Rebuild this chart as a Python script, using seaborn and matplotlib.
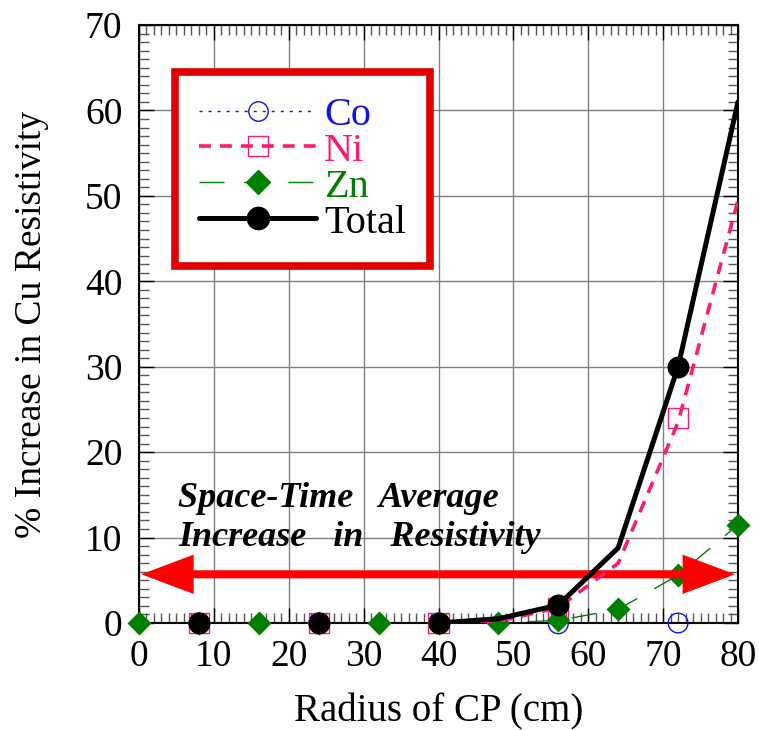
import numpy as np
import pandas as pd
import matplotlib
matplotlib.use("Agg")
import matplotlib.pyplot as plt
from matplotlib.lines import Line2D
from matplotlib.ticker import MultipleLocator
import seaborn as sns

sns.set_theme(style="white")
plt.rcParams['font.family'] = ['Liberation Serif', 'DejaVu Serif']

# ---------------- data ----------------
mark_x = [8, 24, 40, 56, 72]
co_mark = [0, 0, 0, -0.1, 0]
ni_mark = [0, 0, 0, 1.8, 24]
tot_mark = [0, 0, 0, 2.1, 30]

zn_mark_x = [0, 8, 16, 24, 32, 40, 48, 56, 64, 72, 80]
zn_mark = [0, 0, 0, 0, 0, 0, 0, 0.3, 1.6, 5.6, 11.5]

line_x = [40, 48, 56, 64, 72, 80]
co_line = [0, 0, 0, 0, 0, 0]
ni_line = [0, 0.2, 1.8, 7.0, 23.5, 49.5]
zn_line = [0, 0, 0.3, 1.6, 5.6, 11.5]
tot_line = [0, 0.5, 2.1, 8.8, 30, 61]

x_ticks = [0, 10, 20, 30, 40, 50, 60, 70, 80]
y_ticks = [0, 10, 20, 30, 40, 50, 60, 70]

avg_level = 5.7

C_CO = '#1010f0'
C_NI = '#ff1a75'
C_ZN = '#008000'
C_TOT = '#000000'

CO_LS = (0, (2.2, 4.3))
NI_LS = (0, (3.3, 2.5))
ZN_LS = (0, (18, 14))

fig = plt.figure(figsize=(7.59, 7.30), dpi=100)
ax = fig.add_axes([139/759, 1 - 623/730, (738-139)/759, (623-25)/730])

# lines
sns.lineplot(x=line_x, y=zn_line, ax=ax, color=C_ZN, lw=1.0,
             linestyle=ZN_LS, zorder=2)
sns.lineplot(x=line_x, y=co_line, ax=ax, color=C_CO, lw=1.0,
             linestyle=CO_LS, zorder=2)

# markers
sns.scatterplot(x=mark_x, y=co_mark, ax=ax, marker='o', s=200, facecolor='none',
                edgecolor=C_CO, linewidth=1.0, zorder=3, clip_on=False)
sns.scatterplot(x=mark_x, y=ni_mark, ax=ax, marker='s', s=210, facecolor='none',
                edgecolor=C_NI, linewidth=1.0, zorder=3, clip_on=False)
sns.scatterplot(x=zn_mark_x, y=zn_mark, ax=ax, marker='D', s=150, color=C_ZN,
                edgecolor=C_ZN, linewidth=0, zorder=4, clip_on=False)

# arrow (double headed)
for x0, dx in [(40, 39.6), (40, -39.7)]:
    ax.arrow(x0, avg_level, dx, 0, width=0.95, head_width=4.6, head_length=7.0,
             length_includes_head=True, color='#ff0000', lw=0, zorder=5)

sns.lineplot(x=line_x, y=ni_line, ax=ax, color=C_NI, lw=2.6,
             linestyle=NI_LS, zorder=6)
sns.lineplot(x=line_x, y=tot_line, ax=ax, color=C_TOT, lw=3.6, zorder=7)
sns.scatterplot(x=mark_x, y=tot_mark, ax=ax, marker='o', s=250, color=C_TOT,
                edgecolor=C_TOT, linewidth=0, zorder=8, clip_on=False)

# axes
ax.set_xlim(0, 80)
ax.set_ylim(0, 70)
ax.set_xticks(x_ticks)
ax.set_yticks(y_ticks)
ax.xaxis.set_minor_locator(MultipleLocator(1))
ax.yaxis.set_minor_locator(MultipleLocator(1))
ax.grid(True, which='major', color='#808080', lw=1.0)
ax.set_axisbelow(True)
ax.tick_params(which='both', direction='in', top=True, right=True,
               bottom=True, left=True, colors='black', labelsize=27)
ax.tick_params(which='major', length=11, width=1.0, pad=12)
ax.tick_params(which='minor', length=7, width=1.0, color='#555555')
for sp in ax.spines.values():
    sp.set_color('black')
    sp.set_linewidth(1.5)
for lab in ax.get_xticklabels() + ax.get_yticklabels():
    lab.set_color('black')

ax.set_xlabel('Radius of CP (cm)', fontsize=28, color='black', labelpad=14)
ax.set_ylabel('% Increase in Cu Resistivity', fontsize=27, color='black', labelpad=26)

# annotation text
ax.text(5.2, 13.6, 'Space-Time   Average', fontsize=26, fontweight='bold',
        fontstyle='italic', ha='left', va='baseline', color='black', zorder=9)
ax.text(5.2, 9.0, 'Increase   in   Resistivity', fontsize=26, fontweight='bold',
        fontstyle='italic', ha='left', va='baseline', color='black', zorder=9)

# legend
handles = [
    Line2D([], [], color=C_CO, lw=1.0, linestyle=CO_LS, marker='o',
           markersize=14, markerfacecolor='none', markeredgecolor=C_CO, markeredgewidth=1.0),
    Line2D([], [], color=C_NI, lw=2.6, linestyle=NI_LS, marker='s',
           markersize=14, markerfacecolor='none', markeredgecolor=C_NI, markeredgewidth=1.0),
    Line2D([], [], color=C_ZN, lw=1.0, linestyle=ZN_LS, marker='D',
           markersize=12, markerfacecolor=C_ZN, markeredgecolor=C_ZN),
    Line2D([], [], color=C_TOT, lw=3.6, marker='o', markersize=16,
           markerfacecolor=C_TOT, markeredgecolor=C_TOT),
]
labels = ['Co', 'Ni', 'Zn', 'Total']
leg = ax.legend(handles, labels, loc='upper left', bbox_to_anchor=(0.06, 0.921),
                borderaxespad=0, fontsize=29, frameon=True, fancybox=False,
                handlelength=2.9, handletextpad=0.2, labelspacing=-0.03,
                borderpad=0.6)
leg.get_frame().set_edgecolor('#e00000')
leg.get_frame().set_linewidth(5.5)
leg.get_frame().set_facecolor('white')
leg.get_frame().set_alpha(1)
leg.set_zorder(10)
for t, c in zip(leg.get_texts(), [C_CO, C_NI, C_ZN, C_TOT]):
    t.set_color(c)

fig.savefig('out.png', dpi=100)
